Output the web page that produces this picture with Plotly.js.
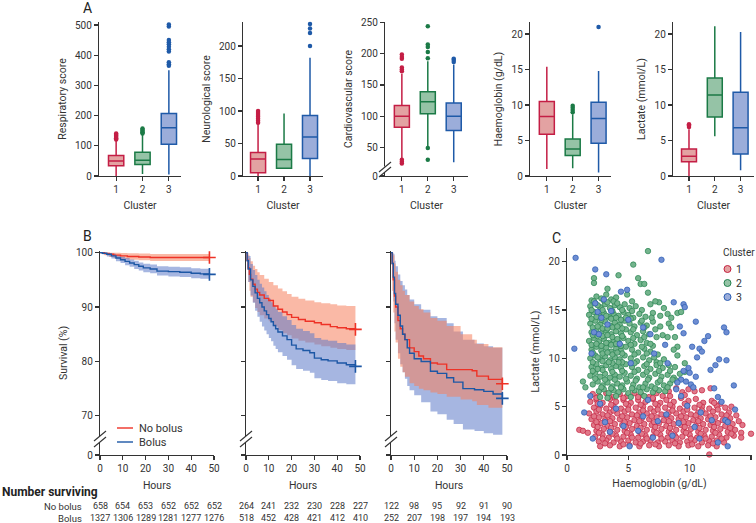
<!DOCTYPE html>
<html><head><meta charset="utf-8">
<script src="https://cdn.plot.ly/plotly-3.0.1.min.js"></script>
<style>html,body{margin:0;padding:0;background:#fff}#chart{width:756px;height:523px}</style>
</head><body><div id="chart"></div>
<script>
// ---------------- DATA ----------------
const clusters = [1, 2, 3];
// Panel A box-plot summaries (per cluster 1,2,3)
const respQ1 = [34, 38, 105], respMed = [50, 52, 160], respQ3 = [68, 79, 207], respLo = [0, 7, 5], respHi = [118, 137, 350];
const respOut = [[121,125,129,133,137,141],[141,145,149,153,157],[365,370,377,412,420,428,436,443,450,495,502]];
const neuroQ1 = [5, 12, 27], neuroMed = [26, 25.5, 60], neuroQ3 = [36, 49, 93], neuroLo = [0, 12, 0], neuroHi = [80, 96, 182];
const neuroOut = [[82,85,88,91,94,97,100],[],[200,220,227,234]];
const cardQ1 = [82, 104, 77], cardMed = [100, 123, 100], cardQ3 = [117, 139, 121], cardLo = [33, 52, 26], cardHi = [168, 188, 183];
const cardOut = [[24,27,30,172,175,178,192,195,199],[30,49,193,203,211,215,244],[187,190,192]];
const hbQ1 = [5.9, 2.9, 4.6], hbMed = [8.4, 3.8, 8.1], hbQ3 = [10.5, 5.2, 10.4], hbLo = [1.0, 1.1, 0.5], hbHi = [15.4, 8.7, 14.8];
const hbOut = [[],[9.0,9.3,9.6,9.9],[21]];
const lacQ1 = [2.0, 8.3, 3.1], lacMed = [2.8, 11.4, 6.8], lacQ3 = [3.8, 13.8, 11.8], lacLo = [0, 5.6, 0.8], lacHi = [6.6, 21.1, 20.3];
const lacOut = [[6.9,7.1,7.3],[],[]];
const boxTitles = ['Respiratory score','Neurological score','Cardiovascular score','Haemoglobin (g/dL)','Lactate (mmol/L)'];

// Panel B Kaplan-Meier (hours, survival %)
const tNb1 = [0, 2, 4, 6, 9, 12, 17, 22, 48];
const sNb1 = [100, 99.85, 99.7, 99.55, 99.4, 99.3, 99.2, 99.1, 99.1];
const uNb1 = [100, 100, 100, 100, 99.95, 99.9, 99.85, 99.75, 99.7];
const lNb1 = [100, 99.5, 99.2, 98.95, 98.8, 98.7, 98.6, 98.45, 98.4];
const tB1 = [0, 1, 3, 5, 7, 9, 11, 13, 15, 17, 19, 22, 25, 30, 35, 40, 44, 48];
const sB1 = [100, 99.9, 99.7, 99.4, 99.0, 98.7, 98.4, 98.1, 97.8, 97.5, 97.2, 97.0, 96.6, 96.5, 96.4, 96.2, 96.1, 96.0];
const uB1 = [100, 100, 99.95, 99.8, 99.5, 99.25, 99.0, 98.75, 98.5, 98.2, 97.95, 97.8, 97.5, 97.4, 97.3, 97.15, 97.05, 97.0];
const lB1 = [100, 99.7, 99.3, 98.9, 98.4, 98.1, 97.7, 97.4, 97.0, 96.7, 96.4, 96.2, 95.8, 95.6, 95.5, 95.3, 95.2, 95.1];

const tNb2 = [0, 0.5, 1, 1.5, 2, 3, 4, 5, 6, 8, 10, 12, 14, 16, 18, 20, 23, 26, 30, 33, 37, 40, 44, 48];
const sNb2 = [100, 98.6, 97.2, 96.0, 95.1, 94.2, 93.3, 92.7, 92.2, 91.6, 91.2, 90.2, 89.6, 89.1, 88.6, 88.1, 87.7, 87.4, 87.1, 86.8, 86.4, 86.2, 86.0, 85.9];
const uNb2 = [100, 100, 99.6, 99.0, 98.4, 97.6, 97.0, 96.4, 95.9, 95.2, 94.6, 94.0, 93.4, 92.9, 92.4, 91.9, 91.5, 91.2, 90.9, 90.7, 90.5, 90.3, 90.2, 90.1];
const lNb2 = [100, 96.8, 94.6, 93.0, 91.9, 90.9, 89.8, 89.1, 88.5, 87.9, 87.4, 86.4, 85.8, 85.2, 84.8, 84.2, 83.8, 83.5, 83.1, 82.8, 82.5, 82.3, 82.1, 81.9];
const tB2 = [0, 0.5, 1, 2, 3, 4, 5, 6, 7, 8, 9, 10, 11, 12, 13, 14, 16, 18, 20, 22, 25, 28, 30, 33, 36, 40, 44, 48];
const sB2 = [100, 98.5, 97, 95, 93.8, 92.6, 91.6, 90.8, 90, 89.3, 88.6, 87.9, 87.3, 86.6, 86, 85.4, 84.7, 84.0, 83.0, 82.3, 82.0, 81.6, 80.6, 80.3, 80.1, 79.7, 79.4, 79.1];
const uB2 = [100, 100, 99.4, 97.9, 96.8, 95.9, 95.0, 94.3, 93.6, 92.9, 92.2, 91.5, 90.9, 90.3, 89.7, 89.1, 88.3, 87.6, 86.7, 86.0, 85.6, 85.2, 84.3, 84.0, 83.8, 83.4, 83.1, 82.8];
const lB2 = [100, 97.0, 94.6, 92.1, 90.8, 89.3, 88.2, 87.3, 86.4, 85.7, 85.0, 84.3, 83.7, 82.9, 82.3, 81.7, 81.0, 80.3, 79.3, 78.6, 78.3, 77.9, 76.9, 76.6, 76.4, 76.0, 75.8, 75.6];

const tNb3 = [0, 0.5, 1, 1.5, 2, 3, 4, 5, 6, 8, 10, 12, 14, 17, 20, 24, 30, 35, 37, 42, 48];
const sNb3 = [100, 98, 95, 92, 90, 87.5, 86, 85, 84, 82.5, 81.8, 81, 80.5, 79.7, 79.5, 78.5, 78.5, 78.3, 77.3, 76.7, 75.9];
const uNb3 = [100, 100, 99.5, 98, 96.5, 95, 94, 93, 92.2, 91, 90.2, 89.6, 89, 88, 87.5, 86.5, 85, 84, 83.2, 82.6, 81.8];
const lNb3 = [100, 93, 89, 85.5, 83.5, 80.5, 79, 78, 77.2, 76, 75.5, 75, 74.7, 74.3, 74, 73.5, 73, 72.7, 72, 71.5, 70.6];
const tB3 = [0, 0.5, 1, 1.5, 2, 3, 4, 5, 6, 7, 8, 10, 13, 17, 20, 24, 27, 31, 36, 40, 44, 48];
const sB3 = [100, 98, 95.5, 92.5, 90.5, 88.5, 86.5, 85.0, 84.0, 82.5, 81.5, 80.5, 80.0, 78.2, 77.8, 77.0, 76.2, 75.0, 74.8, 74.5, 74.0, 73.2];
const uB3 = [100, 100, 99.8, 98.5, 97.5, 96, 94.8, 94, 93.2, 92.2, 91.4, 90.5, 89.5, 88.3, 88, 87, 85.5, 84, 83.3, 82.8, 82.5, 81.2];
const lB3 = [100, 95, 91, 87, 84, 81.5, 79.5, 78, 76.8, 75.5, 74.7, 73.8, 72.5, 70.8, 70.3, 69.3, 68.5, 67.5, 67.2, 66.8, 66.5, 66.3];

const riskHours = [0, 10, 20, 30, 40, 50];
const riskNb = [[658,654,653,652,652,652],[264,241,232,230,228,227],[122,98,95,92,91,90]];
const riskB = [[1327,1306,1289,1281,1277,1276],[518,452,428,421,412,410],[252,207,198,197,194,193]];

// Panel C scatter: [haemoglobin, lactate]
const pts1 = [[2.1,6.3],[2.6,6.1],[3.2,6.4],[3.7,6.0],[4.3,6.3],[4.9,6.1],[5.5,6.4],[6.1,6.2],[6.7,6.0],[7.3,6.4],[7.8,6.1],[8.3,6.6],[8.9,6.9],[9.4,6.5],[9.9,6.8],[10.4,6.6],[11.0,6.7],[11.7,6.9],
[1.9,5.5],[2.4,5.7],[2.9,5.4],[3.5,5.8],[4.0,5.5],[4.6,5.7],[5.2,5.4],[5.8,5.7],[6.4,5.5],[7.0,5.8],[7.6,5.4],[8.1,5.7],[8.7,5.5],[9.3,5.9],[9.9,5.6],[10.5,5.8],[11.1,5.4],[11.8,5.6],[12.5,5.3],
[2.2,4.9],[2.7,5.1],[3.2,4.8],[3.8,5.0],[4.4,4.8],[5.0,5.1],[5.6,4.9],[6.2,5.0],[6.8,4.8],[7.4,5.1],[8.0,4.9],[8.6,5.0],[9.2,4.8],[9.8,5.1],[10.4,4.9],[11.0,5.0],[11.6,4.8],[12.2,5.1],[12.9,4.9],[13.4,5.0],
[1.8,4.3],[2.4,4.5],[2.9,4.2],[3.5,4.4],[4.1,4.3],[4.7,4.5],[5.3,4.2],[5.9,4.4],[6.5,4.3],[7.1,4.5],[7.7,4.2],[8.3,4.4],[8.9,4.3],[9.5,4.5],[10.1,4.2],[10.7,4.4],[11.3,4.3],[11.9,4.5],[12.6,4.2],[13.2,4.4],[13.8,4.1],
[2.0,3.7],[2.6,3.9],[3.1,3.6],[3.7,3.8],[4.3,3.7],[4.9,3.9],[5.5,3.6],[6.1,3.8],[6.7,3.7],[7.3,3.9],[7.9,3.6],[8.5,3.8],[9.1,3.7],[9.7,3.9],[10.3,3.6],[10.9,3.8],[11.5,3.7],[12.1,3.9],[12.7,3.6],[13.3,3.8],[14.0,3.5],[14.3,3.1],
[2.2,3.1],[2.8,3.3],[3.3,3.0],[3.9,3.2],[4.5,3.1],[5.1,3.3],[5.7,3.0],[6.3,3.2],[6.9,3.1],[7.5,3.3],[8.1,3.0],[8.7,3.2],[9.3,3.1],[9.9,3.3],[10.5,3.0],[11.1,3.2],[11.7,3.1],[12.3,3.3],[12.9,3.0],[13.5,3.2],
[1.0,2.6],[1.3,2.5],[2.4,2.5],[3.0,2.7],[3.5,2.4],[4.1,2.6],[4.7,2.5],[5.3,2.7],[5.9,2.4],[6.5,2.6],[7.1,2.5],[7.7,2.7],[8.3,2.4],[8.9,2.6],[9.5,2.5],[10.1,2.7],[10.7,2.4],[11.3,2.6],[11.9,2.5],[12.5,2.7],[13.1,2.4],[13.7,2.6],[14.2,2.3],
[1.7,2.3],[2.3,1.9],[2.9,2.1],[3.4,1.8],[4.0,2.0],[4.6,1.9],[5.2,2.1],[5.8,1.8],[6.4,2.0],[7.0,1.9],[7.6,2.1],[8.2,1.8],[8.8,2.0],[9.4,1.9],[10.0,2.1],[10.6,1.8],[11.2,2.0],[11.8,1.9],[12.4,2.1],[13.0,1.8],[13.6,2.0],[14.2,1.8],[15.0,2.2],
[2.6,1.4],[3.2,1.5],[3.8,1.3],[4.4,1.4],[5.0,1.5],[5.6,1.3],[6.2,1.4],[6.8,1.5],[7.4,1.3],[8.0,1.4],[8.6,1.5],[9.2,1.3],[9.8,1.4],[10.4,1.5],[11.0,1.3],[11.6,1.4],[12.2,1.5],[12.8,1.3],
[2.7,0.9],[3.5,1.0],[4.3,0.9],[5.1,1.0],[5.9,0.9],[6.7,1.0],[7.5,0.9],[8.3,1.0],[9.1,0.9],[9.9,1.0],[10.7,0.9],[11.5,1.0],[12.2,0.9],[11.6,0.05],
[2.4,5.9],[3.4,6.0],[4.6,5.9],[5.8,6.0],[7.0,5.9],[8.4,6.1],[9.6,6.2],
[2.5,5.3],[3.6,5.2],[4.8,5.3],[6.0,5.2],[7.2,5.3],[8.4,5.2],[9.6,5.3],[10.8,5.2],[12.0,5.4],
[2.6,4.7],[3.8,4.6],[5.0,4.7],[6.2,4.6],[7.4,4.7],[8.6,4.6],[9.8,4.7],[11.0,4.6],[12.3,4.7],
[2.2,4.0],[3.3,4.1],[4.5,4.0],[5.7,4.1],[6.9,4.0],[8.1,4.1],[9.3,4.0],[10.5,4.1],[11.7,4.0],[13.0,4.1],
[2.4,3.4],[3.5,3.5],[4.7,3.4],[5.9,3.5],[7.1,3.4],[8.3,3.5],[9.5,3.4],[10.7,3.5],[11.9,3.4],[13.1,3.5],
[2.5,2.9],[3.6,2.8],[4.8,2.9],[6.0,2.8],[7.2,2.9],[8.4,2.8],[9.6,2.9],[10.8,2.8],[12.0,2.9],[13.3,2.8],
[2.6,2.3],[3.7,2.2],[4.9,2.3],[6.1,2.2],[7.3,2.3],[8.5,2.2],[9.7,2.3],[10.9,2.2],[12.1,2.3],[13.4,2.2],
[2.9,1.7],[4.1,1.7],[5.3,1.8],[6.5,1.7],[7.7,1.7],[8.9,1.8],[10.1,1.7],[11.3,1.7],[12.6,1.7],
[3.1,1.2],[4.6,1.1],[6.0,1.2],[7.2,1.1],[8.8,1.2],[10.2,1.1],[11.9,1.2]];
const pts2 = [[2.0,16.0],[2.4,16.4],[2.8,16.2],[3.2,16.6],[3.6,16.1],[4.0,16.3],
[1.9,15.4],[2.3,15.7],[2.7,15.3],[3.1,15.6],[3.5,15.2],[3.9,15.5],[4.3,15.3],[4.7,15.6],[5.1,15.2],[5.6,15.4],[6.1,15.0],[6.8,15.6],[7.5,15.8],[7.9,15.2],
[1.8,14.5],[2.2,14.8],[2.6,14.4],[3.0,14.7],[3.4,14.3],[3.8,14.6],[4.2,14.4],[4.6,14.8],[5.0,14.5],[5.4,14.2],[5.9,14.6],[6.4,14.3],[7.0,14.7],[7.6,14.4],[8.2,14.6],[9.0,14.7],
[1.9,13.6],[2.3,13.9],[2.7,13.5],[3.1,13.8],[3.5,13.4],[3.9,13.7],[4.3,13.5],[4.7,13.9],[5.1,13.6],[5.5,13.3],[6.0,13.7],[6.5,13.4],[7.0,13.8],[7.6,13.3],[8.3,13.6],
[2.0,12.7],[2.4,13.0],[2.8,12.6],[3.2,12.9],[3.6,12.5],[4.0,12.8],[4.4,12.6],[4.8,13.0],[5.2,12.7],[5.7,12.4],[6.2,12.8],[6.7,12.5],[7.3,12.2],[7.8,12.4],
[1.8,11.8],[2.2,12.1],[2.6,11.7],[3.0,12.0],[3.4,11.6],[3.8,11.9],[4.2,11.7],[4.6,12.1],[5.0,11.8],[5.5,11.5],[6.0,11.9],[6.5,11.6],[7.0,11.3],
[2.0,10.9],[2.4,11.2],[2.8,10.8],[3.2,11.1],[3.6,10.7],[4.0,11.0],[4.4,10.8],[4.8,11.2],[5.3,10.9],[5.8,10.6],[6.3,11.0],[6.8,10.7],[7.4,10.4],
[1.9,10.0],[2.3,10.3],[2.7,9.9],[3.1,10.2],[3.5,9.8],[3.9,10.1],[4.3,9.9],[4.7,10.3],[5.2,10.0],[5.7,9.7],[6.2,10.1],[6.7,9.8],[7.3,9.6],[7.9,9.9],
[2.0,9.1],[2.4,9.4],[2.8,9.0],[3.2,9.3],[3.6,8.9],[4.0,9.2],[4.4,9.0],[4.8,9.4],[5.3,9.1],[5.8,8.8],[6.3,9.2],[6.8,8.9],[7.3,9.3],[7.8,9.0],[8.3,9.3],[8.8,9.1],
[1.9,8.2],[2.3,8.5],[2.7,8.1],[3.1,8.4],[3.5,8.0],[3.9,8.3],[4.3,8.1],[4.7,8.5],[5.2,8.2],[5.7,7.9],[6.2,8.3],[6.7,8.0],[7.2,8.4],[7.7,8.1],[8.2,8.3],[8.7,8.0],[9.2,8.4],[9.6,8.6],
[1.3,7.6],[2.1,7.3],[2.5,7.6],[2.9,7.2],[3.3,7.5],[3.7,7.1],[4.1,7.4],[4.5,7.2],[4.9,7.6],[5.4,7.3],[5.9,7.0],[6.4,7.4],[6.9,7.1],[7.4,7.5],[7.9,7.2],[8.4,7.4],[8.9,7.7],
[1.5,7.0],[2.6,6.6],[3.0,6.8],[3.4,6.4],[3.8,6.7],[4.2,6.5],[4.6,6.8],[5.0,6.4],[5.5,6.7],[6.0,6.5],[6.5,6.8],[7.0,6.5],[7.5,6.7],[8.0,6.6],
[2.7,6.0],[3.3,5.9],[4.0,6.1],[5.2,6.0],[6.3,6.1],
[2.2,18.3],[2.2,17.8],[4.2,18.6],[5.4,19.7],[5.8,18.3],[6.0,17.7],[6.3,17.7],[6.6,21.1],[3.3,17.2],[4.9,16.6],[5.3,15.9],[6.6,16.8],[7.2,15.9],[9.3,14.8],[8.5,14.2],[8.5,13.2],[8.8,12.2],[8.2,12.2],[9.0,11.2],[8.7,10.9],[9.0,10.3],[9.6,9.5],
[2.2,15.9],[3.0,16.0],[3.8,15.9],
[2.0,15.0],[2.9,15.0],[3.7,14.9],[4.5,15.0],[5.3,14.9],
[2.0,14.1],[2.8,14.0],[3.6,14.1],[4.4,14.0],[5.2,14.1],[6.1,13.9],[6.9,14.2],
[2.1,13.2],[2.9,13.1],[3.7,13.2],[4.5,13.1],[5.4,13.0],[6.3,13.2],[7.2,13.0],
[2.1,12.4],[2.9,12.3],[3.7,12.2],[4.5,12.3],[5.4,12.1],[6.3,12.2],
[2.0,11.4],[2.8,11.3],[3.6,11.4],[4.4,11.3],[5.2,11.4],[6.1,11.2],[6.8,11.5],
[2.1,10.6],[2.9,10.5],[3.7,10.4],[4.5,10.5],[5.5,10.4],[6.5,10.5],[7.1,10.1],
[2.1,9.6],[2.9,9.7],[3.7,9.5],[4.5,9.6],[5.5,9.5],[6.5,9.4],[7.6,9.5],
[2.1,8.7],[2.9,8.8],[3.7,8.6],[4.5,8.7],[5.5,8.6],[6.5,8.6],[7.5,8.7],[8.4,8.7],
[2.3,7.9],[3.1,7.8],[3.9,7.8],[4.8,7.9],[5.6,7.7],[6.6,7.8],[7.6,7.7],[8.6,7.8],
[2.8,7.0],[3.6,6.9],[4.4,7.0],[5.3,6.9],[6.2,7.0],[7.2,6.9],[8.2,7.0],
[2.5,15.5],[3.3,15.8],[4.1,15.7],[2.4,14.3],[3.2,14.4],[4.0,14.2],[4.8,14.2],[2.5,13.3],[3.3,13.1],[4.1,13.3],[2.5,12.3],[3.3,12.4],[4.1,12.0],[2.4,11.5],[3.2,11.6],[4.0,11.5],[2.5,10.1],[3.3,10.6],[4.1,10.6],[2.5,8.9],[3.4,9.6],[4.2,9.6]];
const pts3 = [[0.7,20.4],[7.7,20.2],[2.3,19.2],[3.2,18.7],[4.4,16.9],[4.9,17.1],[3.0,16.1],[0.6,11.0],
[2.3,15.7],[2.5,14.8],[2.8,14.2],[3.3,13.5],[2.6,12.5],[2.2,12.7],[5.0,14.0],[6.2,13.2],[6.8,12.5],[7.1,10.5],[5.2,9.5],[8.2,9.5],[8.0,11.4],[2.0,10.5],[3.6,14.9],[4.3,11.5],
[8.7,15.8],[9.5,15.6],[9.6,15.3],[10.5,13.8],[9.2,13.3],[9.5,12.6],[12.8,13.2],[13.0,12.7],[11.5,12.3],[11.2,11.8],[10.2,11.2],[10.8,11.0],[11.0,10.7],[12.4,9.9],[13.0,9.8],[11.7,8.8],[12.1,9.3],[10.6,10.1],[9.9,9.0],[10.0,8.5],[9.5,8.7],[10.5,8.1],[9.3,7.8],[9.7,7.6],[10.1,7.3],[10.3,7.0],[9.0,7.5],[8.9,6.8],[9.3,6.1],[12.0,6.9],[12.3,6.0],[13.6,7.2],[12.6,5.5],[13.7,4.7],
[1.9,6.1],[1.4,4.4],[2.1,1.7],[5.1,0.9],[13.1,0.9],[12.3,1.3],[10.8,1.7],[4.0,4.8],[3.1,3.4],[5.8,2.5],[7.4,3.5],[8.1,4.2],[9.1,3.3],[9.8,5.1],[10.9,4.4],[11.8,3.6],[12.9,3.6],[7.0,1.8],[8.6,2.0],[6.2,4.0],[4.6,3.0],[3.5,2.4],[2.7,5.3],[13.1,3.4],[10.4,2.9],[6.6,5.7]];

// ---------------- STYLE / GEOMETRY ----------------
const W = 756, H = 523;
const fx = p => p / W, fy = p => 1 - p / H;
const FONT = 'Roboto, "Noto Sans", sans-serif';
const TXT = '#333';
const cLine = ['#c41e45', '#1b7a46', '#1f5aa8'];
const cFill = ['#e3a2a2', '#95c3a6', '#9badda'];
const cDot = ['#c41e45', '#1b7a46', '#1f5aa8'];
const redL = '#ee3226', blueL = '#1c57a5';
const redBand = 'rgba(245,128,92,0.55)', blueBand = 'rgba(92,122,200,0.55)';

const axBase = {showgrid:false, zeroline:false, showline:true, linecolor:'#333', linewidth:1.2,
  ticks:'outside', ticklen:4, tickwidth:1.2, tickcolor:'#333', tickfont:{family:FONT, size:10, color:TXT},
  fixedrange:true, automargin:false, type:'linear'};
const titleFont = {family:FONT, size:10.5, color:TXT};

const traces = [];
const layout = {width:W, height:H, margin:{l:0,r:0,t:0,b:0}, paper_bgcolor:'#fff', plot_bgcolor:'rgba(0,0,0,0)',
  showlegend:false, font:{family:FONT, color:TXT}, shapes:[], annotations:[]};

// Panel A
const boxSets = [
  [respQ1, respMed, respQ3, respLo, respHi, respOut],
  [neuroQ1, neuroMed, neuroQ3, neuroLo, neuroHi, neuroOut],
  [cardQ1, cardMed, cardQ3, cardLo, cardHi, cardOut],
  [hbQ1, hbMed, hbQ3, hbLo, hbHi, hbOut],
  [lacQ1, lacMed, lacQ3, lacLo, lacHi, lacOut]];
const aGeo = [
  {x0:99, x1:181, xr:[0.35,3.46], yr:[0,510], tv:[0,100,200,300,400,500]},
  {x0:243, x1:323, xr:[0.42,3.5], yr:[0,237], tv:[0,50,100,150,200]},
  {x0:385, x1:468, xr:[0.35,3.55], yr:[4,251], tv:[4,50,100,150,200,250], tt:['0','50','100','150','200','250']},
  {x0:530, x1:611, xr:[0.35,3.48], yr:[0,21.7], tv:[0,5,10,15,20]},
  {x0:673, x1:754, xr:[0.38,3.52], yr:[0,21.7], tv:[0,5,10,15,20]}];
boxSets.forEach((s, k) => {
  const n = k + 1, xa = n === 1 ? 'x' : 'x' + n, ya = n === 1 ? 'y' : 'y' + n;
  const g = aGeo[k];
  layout[n === 1 ? 'xaxis' : 'xaxis' + n] = Object.assign({}, axBase, {domain:[fx(g.x0), fx(g.x1)], range:g.xr, anchor:ya,
    tickvals:clusters, title:{text:'Cluster', font:titleFont, standoff:7}});
  layout[n === 1 ? 'yaxis' : 'yaxis' + n] = Object.assign({}, axBase, {domain:[fy(176), fy(22)], range:g.yr, anchor:xa,
    tickvals:g.tv, ticktext:g.tt, title:{text:boxTitles[k], font:titleFont, standoff:6}});
  clusters.forEach((c, i) => {
    traces.push({type:'box', x:[c], q1:[s[0][i]], median:[s[1][i]], q3:[s[2][i]], lowerfence:[s[3][i]], upperfence:[s[4][i]],
      xaxis:xa, yaxis:ya, width:0.58, whiskerwidth:0, fillcolor:cFill[i], line:{color:cLine[i], width:1.5},
      boxpoints:false, hoverinfo:'skip'});
    if (s[5][i].length) traces.push({type:'scatter', mode:'markers', x:s[5][i].map(() => c), y:s[5][i], xaxis:xa, yaxis:ya,
      marker:{size:4.5, color:cDot[i]}, hoverinfo:'skip', cliponaxis:false});
  });
});

// Panel B
const bGeo = [[100,214],[246,360],[391,507]];
const kmSets = [
  {nb:[tNb1,sNb1,uNb1,lNb1], b:[tB1,sB1,uB1,lB1], blueFirst:false},
  {nb:[tNb2,sNb2,uNb2,lNb2], b:[tB2,sB2,uB2,lB2], blueFirst:false},
  {nb:[tNb3,sNb3,uNb3,lNb3], b:[tB3,sB3,uB3,lB3], blueFirst:true}];
kmSets.forEach((s, k) => {
  const n = k + 6, xa = 'x' + n, ya = 'y' + n;
  layout['xaxis' + n] = Object.assign({}, axBase, {domain:[fx(bGeo[k][0]), fx(bGeo[k][1])], range:[0,50], anchor:ya,
    tickvals:riskHours, title:{text:'Hours', font:titleFont, standoff:8}});
  layout['yaxis' + n] = Object.assign({}, axBase, {domain:[fy(455), fy(251)], range:[62.8,100.3], anchor:xa,
    tickvals:[62.8,70,80,90,100], ticktext:['0','70','80','90','100'], showticklabels:k === 0,
    title:{text:k === 0 ? 'Survival (%)' : '', font:titleFont, standoff:6}});
  const band = (d, col) => {
    traces.push({type:'scatter', mode:'lines', x:d[0], y:d[3], xaxis:xa, yaxis:ya, line:{width:0, shape:'hv'}, hoverinfo:'skip'});
    traces.push({type:'scatter', mode:'lines', x:d[0], y:d[2], xaxis:xa, yaxis:ya, line:{width:0, shape:'hv'}, fill:'tonexty', fillcolor:col, hoverinfo:'skip'});
  };
  if (s.blueFirst) { band(s.b, blueBand); band(s.nb, redBand); } else { band(s.nb, redBand); band(s.b, blueBand); }
  [[s.nb, redL], [s.b, blueL]].forEach(([d, col]) => {
    traces.push({type:'scatter', mode:'lines', x:d[0], y:d[1], xaxis:xa, yaxis:ya, line:{color:col, width:1.4, shape:'hv'}, hoverinfo:'skip'});
    const L = d[0].length - 1;
    traces.push({type:'scatter', mode:'markers', x:[d[0][L]], y:[d[1][L]], xaxis:xa, yaxis:ya,
      marker:{symbol:'cross-thin', size:9, line:{width:1.6, color:col}}, hoverinfo:'skip', cliponaxis:false});
  });
  // axis break marks
  const axx = bGeo[k][0];
  layout.shapes.push({type:'rect', xref:'paper', yref:'paper', x0:fx(axx-2), x1:fx(axx+2), y0:fy(442), y1:fy(436.5), fillcolor:'#fff', line:{width:0}});
  layout.shapes.push({type:'line', xref:'paper', yref:'paper', x0:fx(axx-6), y0:fy(441), x1:fx(axx+6), y1:fy(431), line:{color:'#333', width:1.1}});
  layout.shapes.push({type:'line', xref:'paper', yref:'paper', x0:fx(axx-6), y0:fy(447), x1:fx(axx+6), y1:fy(437), line:{color:'#333', width:1.1}});
  // number at risk
  riskHours.forEach((h, j) => {
    layout.annotations.push({xref:xa, yref:'paper', x:h, y:fy(506), yanchor:'middle', text:String(riskNb[k][j]), showarrow:false, font:{family:FONT, size:9, color:TXT}});
    layout.annotations.push({xref:xa, yref:'paper', x:h, y:fy(518), yanchor:'middle', text:String(riskB[k][j]), showarrow:false, font:{family:FONT, size:9, color:TXT}});
  });
});
// cardio break
layout.shapes.push({type:'rect', xref:'paper', yref:'paper', x0:fx(383), x1:fx(387), y0:fy(172), y1:fy(166.5), fillcolor:'#fff', line:{width:0}});
layout.shapes.push({type:'line', xref:'paper', yref:'paper', x0:fx(379), y0:fy(172), x1:fx(391), y1:fy(162), line:{color:'#333', width:1.1}});
layout.shapes.push({type:'line', xref:'paper', yref:'paper', x0:fx(379), y0:fy(177), x1:fx(391), y1:fy(167), line:{color:'#333', width:1.1}});

// survival legend
[[428, redL, 'No bolus'], [442, blueL, 'Bolus']].forEach(([yy, col, t]) => {
  layout.shapes.push({type:'line', xref:'paper', yref:'paper', x0:fx(117), x1:fx(133), y0:fy(yy), y1:fy(yy), line:{color:col, width:1.4}});
  layout.annotations.push({xref:'paper', yref:'paper', x:fx(137), y:fy(yy), xanchor:'left', yanchor:'middle', text:t, showarrow:false, font:{family:FONT, size:11, color:TXT}});
});
layout.annotations.push({xref:'paper', yref:'paper', x:0, y:fy(492), xanchor:'left', yanchor:'middle', text:'<b>Number surviving</b>', showarrow:false, font:{family:FONT, size:12, color:'#222'}});
layout.annotations.push({xref:'paper', yref:'paper', x:fx(84), y:fy(506), xanchor:'right', yanchor:'middle', text:'No bolus', showarrow:false, font:{family:FONT, size:9.5, color:TXT}});
layout.annotations.push({xref:'paper', yref:'paper', x:fx(84), y:fy(518), xanchor:'right', yanchor:'middle', text:'Bolus', showarrow:false, font:{family:FONT, size:9.5, color:TXT}});

// Panel C
layout.xaxis9 = Object.assign({}, axBase, {domain:[fx(567), fx(752)], range:[0,15.08], anchor:'y9', tickvals:[0,5,10,15],
  title:{text:'Haemoglobin (g/dL)', font:titleFont, standoff:6}});
layout.yaxis9 = Object.assign({}, axBase, {domain:[fy(455), fy(248)], range:[0,21.42], anchor:'x9', tickvals:[0,5,10,15,20],
  title:{text:'Lactate (mmol/L)', font:titleFont, standoff:6}});
const scFill = ['#e07889', '#74b48d', '#6e8dd2'];
const scLine = ['#c4213f', '#25824f', '#2a5cb2'];
[pts1, pts2, pts3].forEach((p, i) => {
  traces.push({type:'scatter', mode:'markers', x:p.map(d => d[0]), y:p.map(d => d[1]), xaxis:'x9', yaxis:'y9', name:String(i+1),
    marker:{size:5.5, color:scFill[i], line:{color:scLine[i], width:0.7}}, hoverinfo:'skip', cliponaxis:false});
});
// cluster legend
layout.annotations.push({xref:'paper', yref:'paper', x:fx(721), y:fy(253), xanchor:'left', yanchor:'middle', text:'Cluster', showarrow:false, font:{family:FONT, size:10, color:TXT}});
[269, 283, 297].forEach((yy, i) => {
  layout.shapes.push({type:'circle', xref:'paper', yref:'paper', x0:fx(724), x1:fx(731), y0:fy(yy+3.5), y1:fy(yy-3.5), fillcolor:cFill[i], line:{color:scLine[i], width:1}});
  layout.annotations.push({xref:'paper', yref:'paper', x:fx(734), y:fy(yy), xanchor:'left', yanchor:'middle', text:String(i+1), showarrow:false, font:{family:FONT, size:10.5, color:TXT}});
});

// panel letters
[['A', 87, 8], ['B', 87, 236], ['C', 556, 238]].forEach(([t, x, y]) => {
  layout.annotations.push({xref:'paper', yref:'paper', x:fx(x), y:fy(y), xanchor:'center', yanchor:'middle', text:t, showarrow:false, font:{family:FONT, size:14, color:'#222'}});
});

Plotly.newPlot('chart', traces, layout, {staticPlot:true, displayModeBar:false});
</script></body></html>
